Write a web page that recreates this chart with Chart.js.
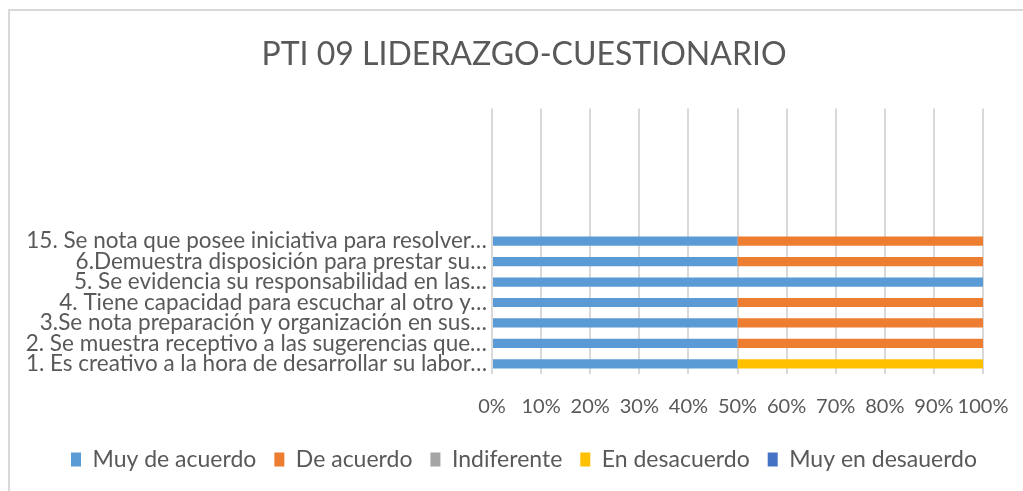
<!DOCTYPE html>
<html lang="es">
<head>
    <meta charset="UTF-8">
    <title>PTI 09 LIDERAZGO-CUESTIONARIO</title>
    <script src="https://cdn.jsdelivr.net/npm/chart.js@4.4.1/dist/chart.umd.min.js"></script>
    <style>
        html, body {
            margin: 0;
            padding: 0;
            background: #ffffff;
            overflow: hidden;
        }
        .frame {
            position: absolute;
            left: 8px;
            top: 9px;
            width: 1100px;
            height: 600px;
            border: 2px solid #d9d9d9;
        }
        .wrap {
            position: absolute;
            left: 0;
            top: 0;
            width: 1023px;
            height: 491px;
        }
    </style>
</head>
<body>
    <div class="frame"></div>
    <div class="wrap">
        <canvas id="chart" width="1023" height="491"></canvas>
    </div>

    <script>
        // categories (top to bottom); the first six rows are empty in the original
        const preguntas = [
            '', '', '', '', '', '',
            '15. Se nota que posee iniciativa para resolver…',
            '6.Demuestra disposición para prestar su…',
            '5. Se evidencia su responsabilidad en las…',
            '4. Tiene capacidad para escuchar al otro y…',
            '3.Se nota preparación y organización en sus…',
            '2. Se muestra receptivo a las sugerencias que…',
            '1. Es creativo a la hora de desarrollar su labor…'
        ];

        // percentages per answer
        const muyDeAcuerdo    = [null, null, null, null, null, null, 50, 50, 100, 50, 50, 50, 50];
        const deAcuerdo       = [null, null, null, null, null, null, 50, 50, 0, 50, 50, 50, 0];
        const indiferente     = [null, null, null, null, null, null, 0, 0, 0, 0, 0, 0, 0];
        const enDesacuerdo    = [null, null, null, null, null, null, 0, 0, 0, 0, 0, 0, 50];
        const muyEnDesacuerdo = [null, null, null, null, null, null, 0, 0, 0, 0, 0, 0, 0];

        const xTicks = [0, 10, 20, 30, 40, 50, 60, 70, 80, 90, 100];

        const textColor = '#595959';
        const fontFamily = 'Lato, "Open Sans", sans-serif';

        function serie(label, data, color) {
            return {
                label: label,
                data: data,
                backgroundColor: color,
                borderWidth: 0,
                barPercentage: 0.45,
                categoryPercentage: 1.0
            };
        }

        const ctx = document.getElementById('chart').getContext('2d');
        new Chart(ctx, {
            type: 'bar',
            data: {
                labels: preguntas,
                datasets: [
                    serie('Muy de acuerdo', muyDeAcuerdo, '#5B9BD5'),
                    serie('De acuerdo', deAcuerdo, '#ED7D31'),
                    serie('Indiferente', indiferente, '#A5A5A5'),
                    serie('En desacuerdo', enDesacuerdo, '#FFC000'),
                    serie('Muy en desauerdo', muyEnDesacuerdo, '#4472C4')
                ]
            },
            options: {
                indexAxis: 'y',
                responsive: false,
                animation: false,
                layout: {
                    padding: { left: 25, right: 0, top: 0, bottom: 10 }
                },
                scales: {
                    x: {
                        stacked: true,
                        min: 0,
                        max: 100,
                        afterBuildTicks: (axis) => {
                            axis.ticks = xTicks.map(v => ({ value: v }));
                        },
                        afterFit: (axis) => {
                            axis.height = 56;
                            axis.paddingLeft = 0;
                            axis.paddingRight = 0;
                        },
                        grid: {
                            color: '#d9d9d9',
                            lineWidth: 2,
                            drawTicks: false
                        },
                        border: { display: false },
                        ticks: {
                            padding: 21,
                            color: textColor,
                            font: { family: fontFamily, size: 20 },
                            maxRotation: 0,
                            autoSkip: false,
                            callback: (v) => v + '%'
                        }
                    },
                    y: {
                        stacked: true,
                        afterFit: (axis) => {
                            axis.width = 467;
                        },
                        grid: { display: false, drawTicks: false },
                        border: { display: false },
                        ticks: {
                            padding: 5,
                            autoSkip: false,
                            color: textColor,
                            font: { family: fontFamily, size: 22.5 }
                        }
                    },
                    // empty right margin so the title stays centred on the frame
                    margen: {
                        type: 'category',
                        position: 'right',
                        display: true,
                        afterFit: (axis) => {
                            axis.width = 40;
                        },
                        grid: { display: false, drawTicks: false },
                        border: { display: false },
                        ticks: { display: false }
                    }
                },
                plugins: {
                    title: {
                        display: true,
                        text: 'PTI 09 LIDERAZGO-CUESTIONARIO',
                        color: textColor,
                        font: { family: fontFamily, size: 32, weight: 'normal' },
                        padding: { top: 35, bottom: 35 }
                    },
                    legend: {
                        position: 'bottom',
                        labels: {
                            color: textColor,
                            font: { family: fontFamily, size: 23 },
                            boxWidth: 10,
                            boxHeight: 14,
                            padding: 18
                        }
                    },
                    tooltip: { enabled: false }
                }
            }
        });
    </script>
</body>
</html>
